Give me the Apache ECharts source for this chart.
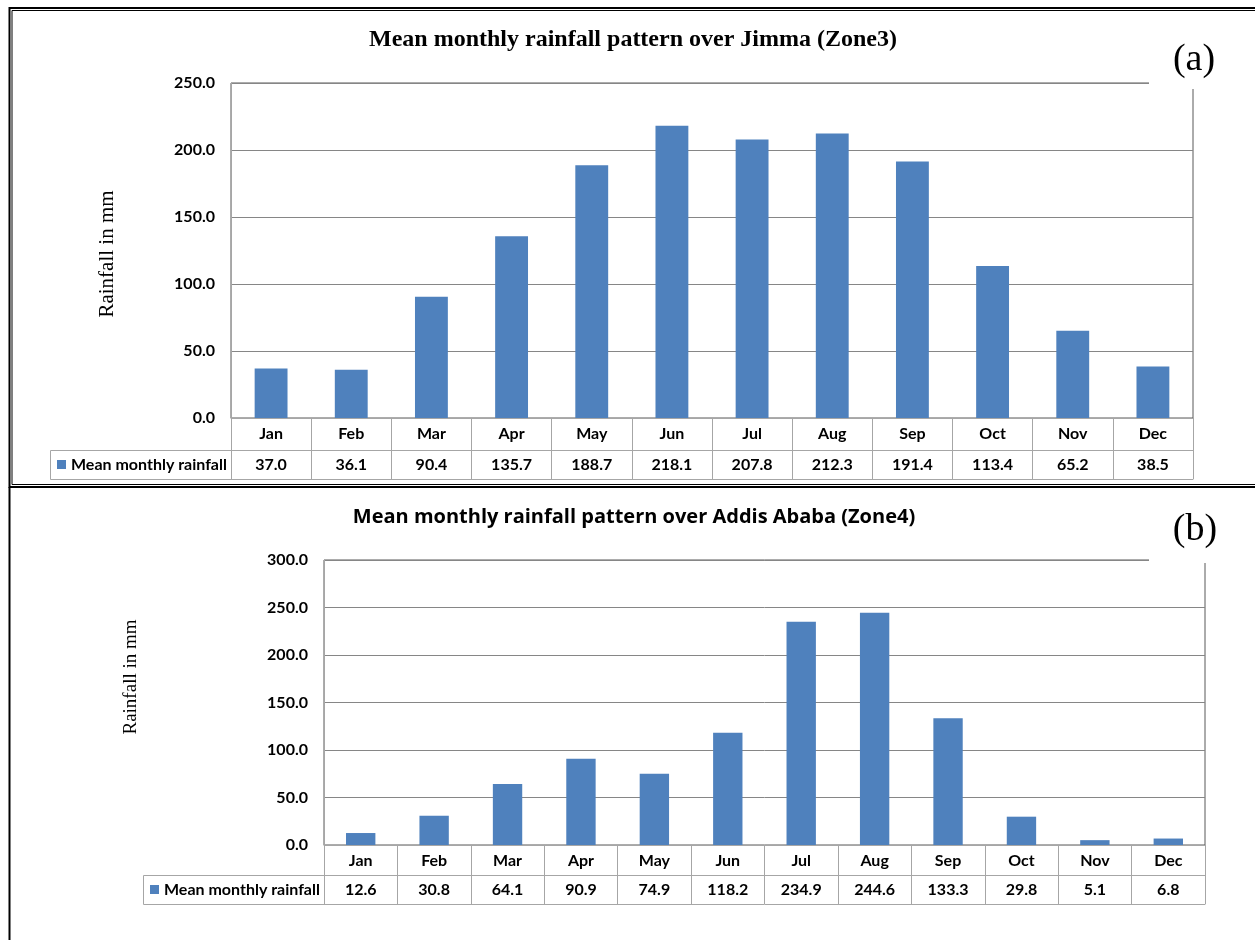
<!DOCTYPE html>
<html>
<head>
<meta charset="utf-8">
<script src="https://cdn.jsdelivr.net/npm/echarts@6/dist/echarts.min.js"></script>
<style>html,body{margin:0;padding:0;background:#fff}#c{width:1255px;height:940px}</style>
</head>
<body>
<div id="c"></div>
<script>
const months = ['Jan','Feb','Mar','Apr','May','Jun','Jul','Aug','Sep','Oct','Nov','Dec'];
const jimmaRain = [37.0,36.1,90.4,135.7,188.7,218.1,207.8,212.3,191.4,113.4,65.2,38.5];
const addisRain = [12.6,30.8,64.1,90.9,74.9,118.2,234.9,244.6,133.3,29.8,5.1,6.8];
const jimmaTicks = [0,50,100,150,200,250];
const addisTicks = [0,50,100,150,200,250,300];
const titleA = 'Mean monthly rainfall pattern over Jimma (Zone3)';
const titleB = 'Mean monthly rainfall pattern over Addis Ababa (Zone4)';
const seriesName = 'Mean monthly rainfall';
const yName = 'Rainfall in mm';

const BLUE = '#4F81BD';
const GRID_C = '#868686';
const TABLE_C = '#A6A6A6';
const SANS = 'Lato';
const SERIF = 'Liberation Serif';
const FS = 16;

// layout
const G1 = {left:231, top:83, width:962, height:335};
const G2 = {left:324, top:560, width:881, height:285};
const ROW1 = [32, 29]; // table row heights top panel
const ROW2 = [30, 29];
const CELL_W = 181;

const chart = echarts.init(document.getElementById('c'), null, {renderer:'canvas'});

function xAxes(gridIndex, rows){
  const total = rows[0] + rows[1];
  return [
    {type:'category', gridIndex, data:months, position:'bottom',
     axisLine:{show:true, lineStyle:{color:TABLE_C, width:1}},
     axisTick:{show:true, interval:0, length:total, lineStyle:{color:TABLE_C}},
     axisLabel:{interval:0, margin:8, color:'#000', fontFamily:SANS, fontWeight:'bold', fontSize:FS}},
    {type:'category', gridIndex, data:(gridIndex===0?jimmaRain:addisRain).map(v=>v.toFixed(1)), position:'bottom', offset:rows[0],
     axisLine:{show:true, lineStyle:{color:TABLE_C, width:1}},
     axisTick:{show:false},
     axisLabel:{interval:0, margin:7, color:'#000', fontFamily:SANS, fontWeight:'bold', fontSize:FS}},
    {type:'category', gridIndex, data:months, position:'bottom', offset:total,
     axisLine:{show:true, lineStyle:{color:TABLE_C, width:1}},
     axisTick:{show:false}, axisLabel:{show:false}}
  ];
}

function yAxis(gridIndex, ticks){
  return {type:'value', gridIndex, min:ticks[0], max:ticks[ticks.length-1], interval:ticks[1]-ticks[0],
    axisLine:{show:true, lineStyle:{color:TABLE_C}},
    axisTick:{show:false},
    splitLine:{show:true, lineStyle:{color:GRID_C, width:1}},
    axisLabel:{margin:16, color:'#000', fontFamily:SANS, fontWeight:'bold', fontSize:FS,
      formatter:v=>v.toFixed(1)}};
}

function legendCell(g, rows){
  const x = g.left - CELL_W, y = g.top + g.height + rows[0], h = rows[1];
  return [
    {type:'rect', shape:{x:x+0.5, y:y+0.5, width:CELL_W, height:h}, style:{fill:'none', stroke:TABLE_C, lineWidth:1}, z:50},
    {type:'rect', shape:{x:x+7, y:y+h/2-4.5, width:9, height:9}, style:{fill:BLUE}, z:50},
    {type:'text', x:x+21, y:y+h/2+0.5, style:{text:seriesName, fill:'#000', font:'bold '+FS+'px '+SANS, textVerticalAlign:'middle', textAlign:'left'}, z:50}
  ];
}

const graphic = [
  // top panel frame (double line)
  {type:'rect', shape:{x:9.5, y:8, width:1300, height:479}, style:{fill:'none', stroke:'#000', lineWidth:2}, z:60, silent:true},
  {type:'rect', shape:{x:12, y:10.5, width:1300, height:474}, style:{fill:'none', stroke:'#000', lineWidth:1}, z:60, silent:true},
  // bottom panel frame
  {type:'line', shape:{x1:9.5, y1:487, x2:9.5, y2:945}, style:{stroke:'#000', lineWidth:2}, z:60},
  // titles
  {type:'text', x:633, y:40, style:{text:titleA, fill:'#000', font:'bold 24px '+SERIF, textAlign:'center', textVerticalAlign:'middle'}, z:50},
  {type:'text', x:634, y:517, style:{text:titleB, fill:'#000', font:'bold 20px "Open Sans"', textAlign:'center', textVerticalAlign:'middle'}, z:50},
  // y names
  {type:'text', x:107, y:254, rotation:Math.PI/2, style:{text:yName, fill:'#000', font:'21px '+SERIF, textAlign:'center', textVerticalAlign:'middle'}, z:50},
  {type:'text', x:131, y:677, rotation:Math.PI/2, style:{text:yName, fill:'#000', font:'19px '+SERIF, textAlign:'center', textVerticalAlign:'middle'}, z:50},
  // panel labels with white boxes
  {type:'rect', shape:{x:1149, y:30, width:100, height:59}, style:{fill:'#fff'}, z:40},
  {type:'text', x:1194, y:60, style:{text:'(a)', fill:'#000', font:'38px '+SERIF, textAlign:'center', textVerticalAlign:'middle'}, z:50},
  {type:'rect', shape:{x:1149, y:500, width:100, height:63}, style:{fill:'#fff'}, z:40},
  {type:'text', x:1195, y:530, style:{text:'(b)', fill:'#000', font:'38px '+SERIF, textAlign:'center', textVerticalAlign:'middle'}, z:50}
].concat(legendCell(G1, ROW1), legendCell(G2, ROW2));

const option = {
  backgroundColor:'#fff',
  animation:false,
  grid:[
    Object.assign({show:true, borderColor:'#595959', borderWidth:1, backgroundColor:'transparent'}, G1),
    Object.assign({show:true, borderColor:'#595959', borderWidth:1, backgroundColor:'transparent'}, G2)
  ],
  xAxis: xAxes(0, ROW1).concat(xAxes(1, ROW2)),
  yAxis:[yAxis(0, jimmaTicks), yAxis(1, addisTicks)],
  series:[
    {type:'bar', name:seriesName, xAxisIndex:0, yAxisIndex:0, data:jimmaRain, barWidth:'41%', itemStyle:{color:BLUE}},
    {type:'bar', name:seriesName, xAxisIndex:3, yAxisIndex:1, data:addisRain, barWidth:'40%', itemStyle:{color:BLUE}}
  ],
  graphic:{elements:graphic}
};
chart.setOption(option);
</script>
</body>
</html>
